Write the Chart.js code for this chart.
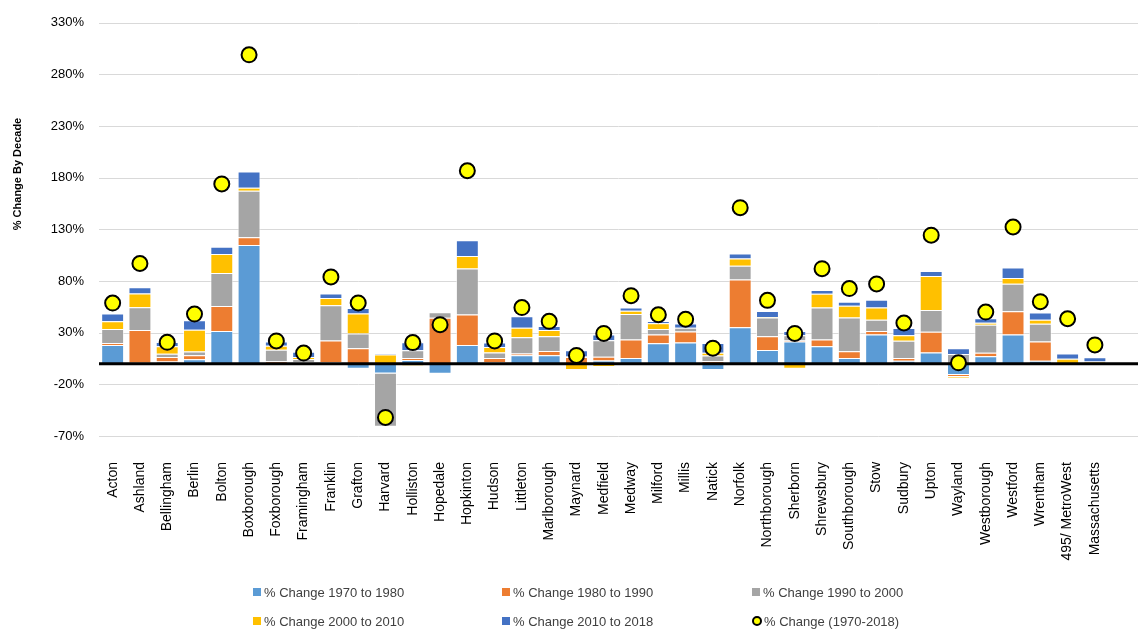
<!DOCTYPE html>
<html>
<head>
<meta charset="utf-8">
<title>% Change By Decade</title>
<script src="https://cdn.jsdelivr.net/npm/chart.js@4.4.1/dist/chart.umd.min.js"></script>
<style>
  body { margin: 0; background: #fff; }
  #wrap { position: relative; width: 1138px; height: 633px; }
  #legend { position: absolute; left: 0; top: 0; width: 1138px; height: 633px; pointer-events: none;
            font: 13px "Liberation Sans", Arial, sans-serif; color: #404040; }
  .item { position: absolute; display: flex; align-items: center; white-space: nowrap; height: 16px; }
  .swatch { width: 8px; height: 8px; margin-right: 3px; }
  .dot { width: 10px; height: 10px; margin-right: 2px; border: 2px solid #000; border-radius: 50%;
         background: #ffff00; box-sizing: border-box; }
</style>
</head>
<body>
<div id="wrap">
  <canvas id="chart" width="1138" height="633"></canvas>
  <div id="legend"></div>
</div>
<script>
// Towns along the x axis
const towns = ["Acton", "Ashland", "Bellingham", "Berlin", "Bolton", "Boxborough", "Foxborough",
  "Framingham", "Franklin", "Grafton", "Harvard", "Holliston", "Hopedale", "Hopkinton", "Hudson",
  "Littleton", "Marlborough", "Maynard", "Medfield", "Medway", "Milford", "Millis", "Natick",
  "Norfolk", "Northborough", "Sherborn", "Shrewsbury", "Southborough", "Stow", "Sudbury", "Upton",
  "Wayland", "Westborough", "Westford", "Wrentham", "495/ MetroWest", "Massachusetts"];

// % change per decade
const change7080 = [18, 1, 2, 4.4, 31.7, 115, 0.5, 1.5, 1.5, -4.8, -9.5, 3.5, -9.8, 18, 1.3,
  8.2, 8.2, -1, 3, 5.4, 19.7, 20.6, -6, 35.2, 13.3, 21.5, 16.8, 5.4, 28.2, 2.9, 10.8,
  -11, 7.3, 28.2, 2.9, 0, 0];
const change8090 = [2, 31.7, 4.5, 3.8, 24.1, 7.3, 1.9, -0.5, 21, 14.9, 0, 2, 44.4, 29.5, 4.1,
  1.6, 4.1, 6.5, 3.8, 18, 8.6, 10.5, 2.5, 46.3, 13.3, 1, 6.7, 6.7, 3.5, 2.5, 20,
  -2, 3.2, 22.5, 18.7, 0, 0];
const change9000 = [13.6, 21.9, 3.2, 3.5, 32, 45, 11.1, 3, 34, 14.3, -51.5, 7.6, 5.4, 44.7, 5.4,
  15.8, 14.3, 0.5, 15.8, 24.7, 5.4, 3.8, 5.5, 13.3, 18, 5.1, 31, 32.6, 10.8, 16.8, 21.2,
  9.5, 27.2, 26.6, 17.1, 0, 0];
const change0010 = [7.6, 13.3, 7.3, 21.2, 18.4, 2.9, 3.8, 2, 7, 19.3, 8.9, -2.5, 0, 12, 5.4,
  9.2, 6, -5, -3.2, 3.2, 5.4, -0.3, 2.5, 7, 0.6, -4.8, 13.3, 11.4, 12, 5.4, 33,
  -0.8, 1.9, 5.7, 3.8, 4.8, 2.2];
const change1018 = [7.3, 6, 4.1, 9.2, 7, 15.8, 4.1, 5, 4.5, 5.4, 0.8, 7.6, 0, 15.2, 4.4,
  11.1, 3.8, 6, 5.7, 3.2, 2.2, 4.1, 9.5, 4.8, 5.7, 4.1, 3.5, 3.8, 7.3, 7, 4.8,
  5.4, 4.4, 10.1, 7, 5.1, 4.1];
// total change 1970-2018
const changeTotal = [58.7, 97, 20.7, 48, 174, 299, 22, 10.3, 84, 58.8, -52, 20.4, 37.8, 186.8, 22,
  54.3, 41, 8, 29.3, 65.8, 47.4, 43, 15, 151, 61.3, 29.3, 92, 72.7, 77.2, 39.4, 124.4,
  0.8, 50, 132.3, 60, 43.5, 18.2];

const yTicks = [-70, -20, 30, 80, 130, 180, 230, 280, 330];

const seriesNames = ["% Change 1970 to 1980", "% Change 1980 to 1990", "% Change 1990 to 2000",
  "% Change 2000 to 2010", "% Change 2010 to 2018", "% Change (1970-2018)"];
const seriesColors = ["#5b9bd5", "#ed7d31", "#a5a5a5", "#ffc000", "#4472c4", "#ffff00"];

const font = "'Liberation Sans', Arial, sans-serif";

// Build the bar datasets
const decadeData = [change7080, change8090, change9000, change0010, change1018];
const datasets = decadeData.map((data, i) => ({
  type: "bar",
  label: seriesNames[i],
  data: data,
  backgroundColor: seriesColors[i],
  borderColor: "rgba(255,255,255,0.6)",
  borderWidth: 1,
  stack: "decades",
  barPercentage: 0.84,
  categoryPercentage: 1,
}));

datasets.push({
  type: "line",
  label: seriesNames[5],
  data: changeTotal,
  showLine: false,
  stack: "total",
  order: -1,
  pointRadius: 7.5,
  pointBackgroundColor: seriesColors[5],
  pointBorderColor: "#000",
  pointBorderWidth: 2,
});

// Gridlines (full width), zero line and y axis title
const extras = {
  id: "extras",
  beforeDatasetsDraw(chart) {
    const { ctx, chartArea, scales } = chart;
    ctx.save();
    ctx.strokeStyle = "#d9d9d9";
    ctx.lineWidth = 1;
    yTicks.forEach(v => {
      const y = Math.round(scales.y.getPixelForValue(v)) + 0.5;
      ctx.beginPath();
      ctx.moveTo(chartArea.left, y);
      ctx.lineTo(chart.width, y);
      ctx.stroke();
    });
    ctx.restore();
  },
  beforeDatasetDraw(chart, args) {
    if (args.index !== 5) return;
    const { ctx, chartArea, scales } = chart;
    const y0 = scales.y.getPixelForValue(0);
    ctx.save();
    ctx.strokeStyle = "#000";
    ctx.lineWidth = 3;
    ctx.beginPath();
    ctx.moveTo(chartArea.left, y0);
    ctx.lineTo(chart.width, y0);
    ctx.stroke();
    ctx.restore();
  },
  afterDraw(chart) {
    const ctx = chart.ctx;
    ctx.save();
    ctx.translate(18, 174);
    ctx.rotate(-Math.PI / 2);
    ctx.font = "bold 11px " + font;
    ctx.fillStyle = "#000";
    ctx.textAlign = "center";
    ctx.textBaseline = "middle";
    ctx.fillText("% Change By Decade", 0, 0);
    ctx.restore();
  },
};

const ctx = document.getElementById("chart").getContext("2d");
const chart = new Chart(ctx, {
  type: "bar",
  data: { labels: towns, datasets: datasets },
  options: {
    responsive: false,
    animation: false,
    devicePixelRatio: 1,
    layout: { padding: { left: 35, right: 22, top: 15, bottom: 57 } },
    plugins: {
      legend: { display: false },
      tooltip: { enabled: false },
    },
    scales: {
      x: {
        stacked: true,
        grid: { display: false, drawTicks: false },
        border: { display: false },
        ticks: {
          autoSkip: false,
          minRotation: 90,
          maxRotation: 90,
          padding: 26,
          color: "#000",
          font: { family: font, size: 14 },
        },
        afterFit: scale => { scale.height = 140; },
      },
      y: {
        stacked: true,
        min: -70,
        max: 330,
        afterBuildTicks: scale => { scale.ticks = yTicks.map(v => ({ value: v })); },
        grid: { display: false, drawTicks: false },
        border: { display: false },
        ticks: {
          padding: 15,
          color: "#000",
          font: { family: font, size: 13 },
          callback: v => v + "%",
        },
        afterFit: scale => { scale.width = 64; },
      },
    },
  },
  plugins: [extras],
});

// HTML legend, 3 columns x 2 rows
const legendEl = document.getElementById("legend");
const colX = [253, 502, 752];
const rowY = [584, 613];
seriesNames.forEach((name, i) => {
  const item = document.createElement("div");
  item.className = "item";
  item.style.left = colX[i % 3] + "px";
  item.style.top = rowY[Math.floor(i / 3)] + "px";
  const mark = document.createElement("span");
  if (i === 5) {
    mark.className = "dot";
  } else {
    mark.className = "swatch";
    mark.style.background = seriesColors[i];
  }
  const text = document.createElement("span");
  text.textContent = name;
  item.appendChild(mark);
  item.appendChild(text);
  legendEl.appendChild(item);
});
</script>
</body>
</html>
